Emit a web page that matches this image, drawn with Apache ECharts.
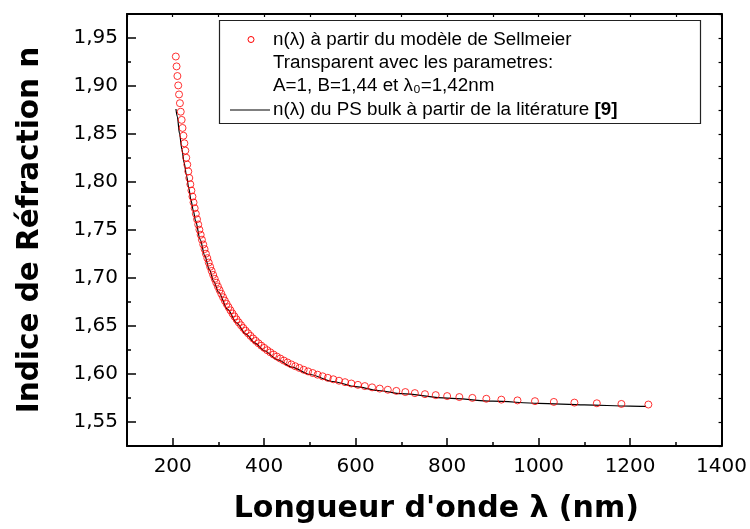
<!DOCTYPE html>
<html>
<head>
<meta charset="utf-8">
<script src="https://cdn.jsdelivr.net/npm/echarts@6/dist/echarts.min.js"></script>
<style>html,body{margin:0;padding:0;background:#fff}#c{width:750px;height:529px}</style>
</head>
<body>
<div id="c"></div>
<script>
// Sellmeier model points (red open circles)
const sellmeierLambda = [206.7,208.4,210.2,212.0,213.8,215.7,217.5,219.5,221.4,223.4,225.5,227.5,229.6,231.8,234.0,236.2,238.5,240.8,243.1,245.5,248.0,250.5,253.1,255.7,258.3,261.1,263.8,266.7,269.6,272.5,275.6,278.7,281.8,285.1,288.4,291.8,295.2,298.8,302.4,306.2,310.0,313.9,317.9,322.1,326.3,330.7,335.1,339.7,344.4,349.3,354.3,359.4,364.7,370.1,375.8,381.5,387.5,393.7,400.0,406.6,413.3,420.3,427.6,435.1,442.9,450.9,459.3,467.9,476.9,486.3,496.0,506.1,516.7,527.7,539.1,551.1,563.6,576.7,590.5,604.9,620.0,635.9,652.6,670.3,688.9,708.6,729.4,751.5,775.0,800.0,826.7,855.2,885.7,918.5,953.8,992.0,1033.3,1078.3,1127.3,1181.0,1240.0];
const sellmeierN = [1.9307,1.9204,1.9104,1.9006,1.8912,1.8821,1.8732,1.8647,1.8563,1.8482,1.8403,1.8327,1.8253,1.8181,1.8110,1.8042,1.7976,1.7911,1.7848,1.7787,1.7727,1.7669,1.7612,1.7557,1.7503,1.7450,1.7399,1.7349,1.7301,1.7253,1.7207,1.7161,1.7117,1.7074,1.7032,1.6991,1.6951,1.6912,1.6874,1.6836,1.6800,1.6764,1.6730,1.6696,1.6663,1.6630,1.6599,1.6568,1.6537,1.6508,1.6479,1.6451,1.6424,1.6397,1.6370,1.6345,1.6320,1.6295,1.6272,1.6248,1.6226,1.6203,1.6182,1.6161,1.6140,1.6120,1.6100,1.6081,1.6063,1.6044,1.6027,1.6010,1.5993,1.5976,1.5960,1.5945,1.5930,1.5915,1.5901,1.5887,1.5874,1.5861,1.5848,1.5836,1.5824,1.5812,1.5801,1.5790,1.5780,1.5770,1.5760,1.5751,1.5742,1.5733,1.5725,1.5717,1.5709,1.5702,1.5695,1.5688,1.5682];

// Literature bulk PS curve (black line)
const litLambda = [207,210,215,220,225,230,235,240,245,250,260,270,280,290,300,320,340,360,380,400,430,460,500,550,600,650,700,800,900,1000,1100,1200,1235];
const litN = [1.876,1.868,1.850,1.834,1.820,1.807,1.794,1.781,1.770,1.7595,1.740,1.7233,1.7087,1.6962,1.6854,1.6673,1.6531,1.6415,1.6322,1.6242,1.6147,1.6072,1.5995,1.5922,1.5869,1.5828,1.5795,1.5749,1.5717,1.5695,1.5678,1.5666,1.5662];

// Axis ticks
const xMajorTicks = [200,400,600,800,1000,1200,1400];
const xMinorTicks = [100,300,500,700,900,1100,1300];
const xAllTicks = [100,200,300,400,500,600,700,800,900,1000,1100,1200,1300,1400];
const yMajorTicks = [1.55,1.60,1.65,1.70,1.75,1.80,1.85,1.90,1.95];
const yMinorTicks = [1.575,1.625,1.675,1.725,1.775,1.825,1.875,1.925];
const yAllTicks = [1.525,1.55,1.575,1.60,1.625,1.65,1.675,1.70,1.725,1.75,1.775,1.80,1.825,1.85,1.875,1.90,1.925,1.95,1.975];

const xTitle = "Longueur d'onde \u03bb (nm)";
const yTitle = "Indice de R\u00e9fraction n";
const legend1 = ["n(\u03bb) \u00e0 partir du mod\u00e8le de Sellmeier", "Transparent avec les parametres:", "A=1, B=1,44 et \u03bb\u2080=1,42nm"];
const legend2 = "n(\u03bb) du PS bulk \u00e0 partir de la lit\u00e9rature ";
const legend2b = "[9]";

const X_MIN = 100, X_MAX = 1400, Y_MIN = 1.525, Y_MAX = 1.975;

const chart = echarts.init(document.getElementById('c'), null, {renderer: 'canvas'});

const labelFont = {fontFamily: 'DejaVu Sans', fontSize: 20, color: '#000'};
const axisLine = {show: true, lineStyle: {color: '#000', width: 2}};
const legendFont = {fontFamily: 'Liberation Sans', fontSize: 18.8, fill: '#000'};

const option = {
  backgroundColor: '#fff',
  animation: false,
  grid: {left: 127, right: 28, top: 14, bottom: 83, containLabel: false},
  xAxis: [
    {
      type: 'value', min: X_MIN, max: X_MAX, position: 'bottom',
      axisLine: axisLine,
      axisTick: {show: true, inside: true, length: 8, customValues: xMajorTicks, lineStyle: {color: '#000', width: 1.5}},
      axisLabel: Object.assign({show: true, margin: 11, customValues: xMajorTicks, formatter: v => String(v)}, labelFont),
      splitLine: {show: false},
      name: xTitle, nameLocation: 'middle', nameGap: 48,
      nameTextStyle: {fontFamily: 'DejaVu Sans', fontWeight: 'bold', fontSize: 30, color: '#000', padding: [0, 0, 0, 24]}
    },
    {
      type: 'value', min: X_MIN, max: X_MAX, position: 'bottom', offset: 0,
      axisLine: {show: false},
      axisTick: {show: true, inside: true, length: 4, customValues: xMinorTicks, lineStyle: {color: '#000', width: 1.5}},
      axisLabel: {show: false},
      splitLine: {show: false}
    },
    {
      type: 'value', min: X_MIN, max: X_MAX, position: 'top',
      axisLine: axisLine,
      axisTick: {show: true, inside: true, length: 3, customValues: xAllTicks, lineStyle: {color: '#000', width: 1.2}},
      axisLabel: {show: false},
      splitLine: {show: false}
    }
  ],
  yAxis: [
    {
      type: 'value', min: Y_MIN, max: Y_MAX, position: 'left',
      axisLine: axisLine,
      axisTick: {show: true, inside: true, length: 9, customValues: yMajorTicks, lineStyle: {color: '#000', width: 1.5}},
      axisLabel: Object.assign({show: true, margin: 9, customValues: yMajorTicks,
        formatter: v => Number(v).toFixed(2).replace('.', ',')}, labelFont),
      splitLine: {show: false},
      name: yTitle, nameLocation: 'middle', nameGap: 82, nameRotate: 90,
      nameTextStyle: {fontFamily: 'DejaVu Sans', fontWeight: 'bold', fontSize: 29.5, color: '#000'}
    },
    {
      type: 'value', min: Y_MIN, max: Y_MAX, position: 'left', offset: 0,
      axisLine: {show: false},
      axisTick: {show: true, inside: true, length: 4, customValues: yMinorTicks, lineStyle: {color: '#000', width: 1.5}},
      axisLabel: {show: false},
      splitLine: {show: false}
    },
    {
      type: 'value', min: Y_MIN, max: Y_MAX, position: 'right',
      axisLine: axisLine,
      axisTick: {show: true, inside: true, length: 3, customValues: yAllTicks, lineStyle: {color: '#000', width: 1.2}},
      axisLabel: {show: false},
      splitLine: {show: false}
    }
  ],
  series: [
    {
      type: 'line', xAxisIndex: 0, yAxisIndex: 0,
      data: litLambda.map((x, i) => [x, litN[i]]),
      showSymbol: false, smooth: 0.3, smoothMonotone: 'x',
      lineStyle: {color: '#000', width: 1.2},
      z: 2
    },
    {
      type: 'scatter', xAxisIndex: 0, yAxisIndex: 0,
      data: sellmeierLambda.map((x, i) => [x, sellmeierN[i]]),
      symbol: 'circle', symbolSize: 7,
      itemStyle: {color: 'rgba(0,0,0,0)', borderColor: '#ff0000', borderWidth: 1},
      z: 3
    }
  ],
  graphic: [
    {type: 'rect', shape: {x: 219.5, y: 20.5, width: 481, height: 103}, style: {fill: '#fff', stroke: '#222', lineWidth: 1.2}, z: 10},
    {type: 'circle', shape: {cx: 251, cy: 39.5, r: 3}, style: {fill: 'none', stroke: '#ff0000', lineWidth: 1}, z: 11},
    {type: 'text', x: 273, y: 39.5, style: Object.assign({text: legend1[0], verticalAlign: 'middle'}, legendFont), z: 11},
    {type: 'text', x: 273, y: 63, style: Object.assign({text: legend1[1], verticalAlign: 'middle'}, legendFont), z: 11},
    {type: 'text', x: 273, y: 86, style: Object.assign({text: legend1[2], verticalAlign: 'middle'}, legendFont), z: 11},
    {type: 'line', shape: {x1: 230, y1: 110, x2: 270, y2: 110}, style: {stroke: '#000', lineWidth: 1.2}, z: 11},
    {type: 'text', x: 273, y: 110, style: {
      text: '{n|' + legend2 + '}{b|' + legend2b + '}',
      verticalAlign: 'middle',
      rich: {
        n: {fontFamily: 'Liberation Sans', fontSize: 18.8, fill: '#000', color: '#000'},
        b: {fontFamily: 'Liberation Sans', fontSize: 18.8, fontWeight: 'bold', fill: '#000', color: '#000'}
      }
    }, z: 11}
  ]
};
chart.setOption(option);
</script>
</body>
</html>
